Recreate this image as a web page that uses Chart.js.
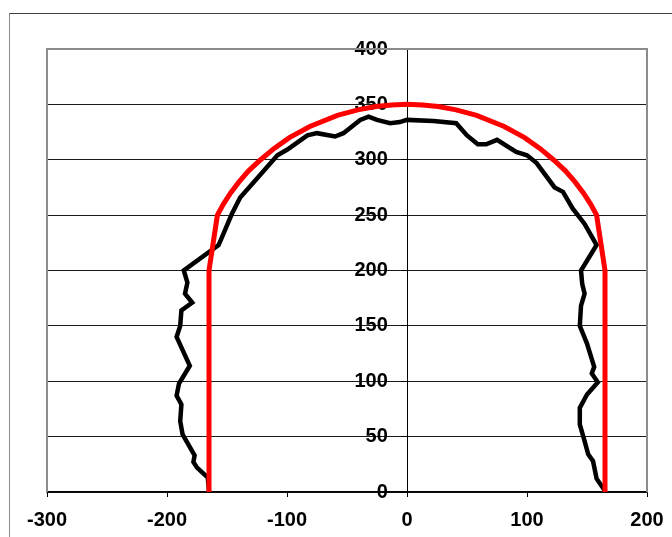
<!DOCTYPE html>
<html>
<head>
<meta charset="utf-8">
<script src="https://cdn.jsdelivr.net/npm/chart.js@4"></script>
<style>
  html, body { margin: 0; padding: 0; background: #fff; }
  #wrap { position: relative; width: 672px; height: 537px; overflow: hidden; }
  #frame { position: absolute; left: 9px; top: 13px; width: 700px; height: 600px;
           border-top: 1px solid #404040; border-left: 1px solid #8a8a8a; }
  canvas { position: absolute; left: 0; top: 0; }
</style>
</head>
<body>
<div id="wrap">
  <div id="frame"></div>
  <canvas id="c" width="672" height="537"></canvas>
</div>
<script>
// Design profile (red)
const designX = [-165, -165, -158, -153, -147, -140, -132, -122, -111, -98, -81, -58, -41, -26, -13, 0,
                 13, 26, 41, 58, 81, 98, 111, 122, 132, 140, 147, 153, 158, 165, 165];
const designY = [0, 200, 250, 260, 270, 280, 290, 300, 310, 320, 330, 340, 345, 348, 349.5, 350,
                 349.5, 348, 345, 340, 330, 320, 310, 300, 290, 280, 270, 260, 250, 200, 0];

// Measured profile (black)
const measuredX = [-165, -166, -175, -178, -177, -187, -189, -188, -192, -190, -181, -192, -189, -188, -179, -185, -183, -186,
  -157, -153, -146, -139, -125, -108, -100, -83, -75, -60, -53, -39, -32, -25, -14, -6, 0, 22, 41, 50, 59, 66, 75, 91, 100, 108,
  123, 130, 138, 148, 158, 145, 146, 148, 145, 144, 150, 154, 156, 154, 159, 150, 144, 144, 148, 151, 155, 158, 165];
const measuredY = [1, 13, 22, 27, 33, 52, 64, 79, 87, 98, 114, 140, 150, 164, 171, 179, 189, 200,
  223, 233, 251, 266, 283, 304, 309, 322, 324, 321, 324, 336, 339, 336, 333, 334, 336, 335, 333, 322, 314, 314, 318, 307, 304, 297,
  275, 271, 256, 242, 223, 200, 188, 179, 168, 150, 134, 120, 113, 107, 99, 88, 76, 61, 46, 34, 28, 12, 1];

// Axis ticks
const xTicks = [-300, -200, -100, 0, 100, 200];
const yTicks = [0, 50, 100, 150, 200, 250, 300, 350, 400];

const toPts = (xs, ys) => xs.map((x, i) => ({ x: x, y: ys[i] }));

const plotFrame = {
  id: 'plotFrame',
  beforeDatasetsDraw(chart) {
    const { ctx, chartArea: a } = chart;
    ctx.save();
    ctx.strokeStyle = '#8c8c8c';
    ctx.lineWidth = 2;
    ctx.beginPath();
    ctx.moveTo(a.left, a.bottom);
    ctx.lineTo(a.left, a.top);
    ctx.lineTo(a.right, a.top);
    ctx.lineTo(a.right, a.bottom);
    ctx.stroke();
    ctx.restore();
  }
};

const font = { family: '"Liberation Sans", Arial, sans-serif', size: 20, weight: 'bold' };

new Chart(document.getElementById('c'), {
  type: 'scatter',
  data: {
    datasets: [
      { label: 'Design', data: toPts(designX, designY), showLine: true, borderColor: '#ff0000',
        borderWidth: 5, pointRadius: 0, fill: false, tension: 0, order: 0, yAxisID: 'y' },
      { label: 'Measured', data: toPts(measuredX, measuredY), showLine: true, borderColor: '#000000',
        borderWidth: 4.5, pointRadius: 0, fill: false, tension: 0, order: 1, yAxisID: 'y' }
    ]
  },
  options: {
    responsive: false,
    animation: false,
    layout: { padding: { left: 47, right: 25, top: 49, bottom: 7 } },
    plugins: { legend: { display: false }, tooltip: { enabled: false } },
    scales: {
      x: {
        type: 'linear', position: 'bottom', min: -300, max: 200,
        afterBuildTicks: (s) => { s.ticks = xTicks.map(v => ({ value: v })); },
        afterFit: (s) => { s.height = 38; s.paddingLeft = 0; s.paddingRight = 0; },
        ticks: { font: font, color: '#000', padding: 11, maxRotation: 0 },
        grid: { drawOnChartArea: false, drawTicks: true, tickLength: 5, color: '#000' },
        border: { display: true, color: '#000', width: 1.5 }
      },
      // labels + horizontal gridlines (labels sit a little left of the axis line)
      y: {
        type: 'linear', position: { x: -16 }, min: 0, max: 400,
        afterBuildTicks: (s) => { s.ticks = yTicks.map(v => ({ value: v })); },
        ticks: { font: font, color: '#000', padding: 0 },
        grid: {
          color: (c) => (c.tick && c.tick.value === 400) ? 'rgba(0,0,0,0)' : '#1a1a1a',
          lineWidth: 1, drawTicks: false
        },
        border: { display: false }
      },
      // the vertical axis line at x = 0 with its tick marks
      yAxisLine: {
        type: 'linear', position: { x: 0 }, min: 0, max: 400,
        afterBuildTicks: (s) => { s.ticks = yTicks.map(v => ({ value: v })); },
        ticks: { display: false },
        grid: { drawOnChartArea: false, drawTicks: true, tickLength: 6, color: '#000' },
        border: { display: true, color: '#000', width: 1 }
      }
    }
  },
  plugins: [plotFrame]
});
</script>
</body>
</html>
